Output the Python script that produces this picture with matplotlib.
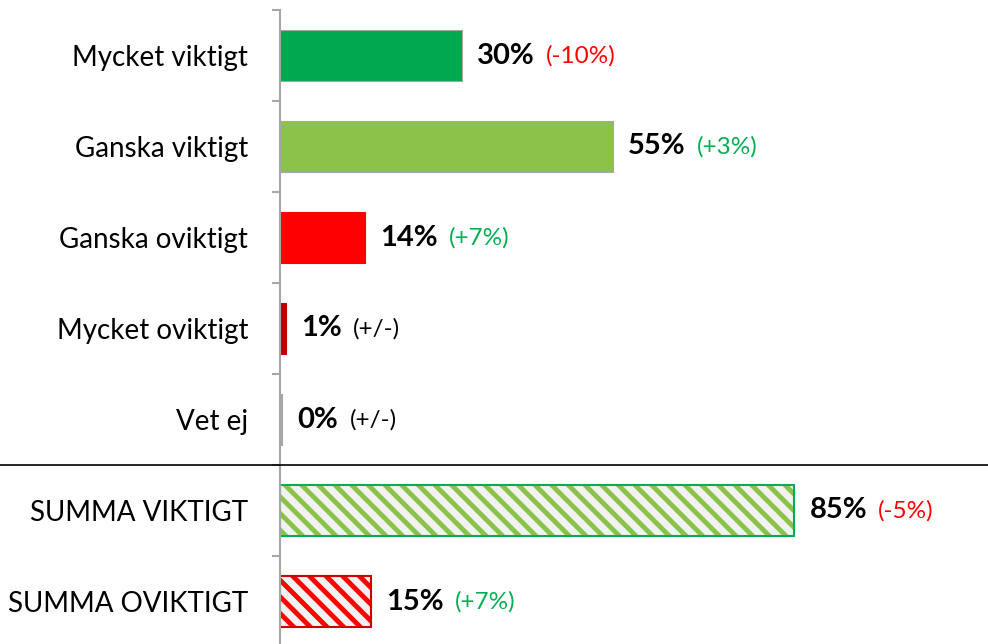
import matplotlib
matplotlib.use("Agg")
import matplotlib.pyplot as plt
from matplotlib.lines import Line2D

plt.rcParams['font.family'] = ['Lato', 'DejaVu Sans']

categories = ["Mycket viktigt", "Ganska viktigt", "Ganska oviktigt", "Mycket oviktigt",
              "Vet ej", "SUMMA VIKTIGT", "SUMMA OVIKTIGT"]
values = [30, 55, 14, 1, 0.4, 85, 15]
changes = ["(-10%)", "(+3%)", "(+7%)", "(+/-)", "(+/-)", "(-5%)", "(+7%)"]
change_colors = ["#FF0000", "#00B050", "#00B050", "#000000", "#000000", "#FF0000", "#00B050"]
face_colors = ["#00A84F", "#8BC34A", "#FF0000", "#C00000", "#A6A6A6", "#F2F2F2", "#F2F2F2"]
edge_colors = ["#A6A6A6", "#A6A6A6", "#FF0000", "#C00000", "#A6A6A6", "#00B050", "#D00000"]
hatches = [None, None, None, None, None, "\\\\", "\\\\"]
hatch_colors = [None, None, None, None, None, "#8BC34A", "#FF0000"]

W, H = 988, 644
fig = plt.figure(figsize=(W / 100, H / 100), dpi=100)
ax_left = 280 / W
ax_top = 10
ax_bottom = 647
ax = fig.add_axes([ax_left, 1 - ax_bottom / H, 1 - ax_left, (ax_bottom - ax_top) / H])

n = len(categories)
ypos = list(range(n))
for i in range(n):
    if hatches[i]:
        plt.rcParams['hatch.color'] = hatch_colors[i]
        plt.rcParams['hatch.linewidth'] = 3.5
        bar = ax.barh(ypos[i], values[i], height=0.57, color=face_colors[i],
                      edgecolor=edge_colors[i], linewidth=1.5, hatch=hatches[i])
        p = bar[0]
        if hasattr(p, 'set_hatch_linewidth'):
            p.set_hatch_linewidth(3.5)
        try:
            p._hatch_color = matplotlib.colors.to_rgba(hatch_colors[i])
        except Exception:
            pass
    else:
        ax.barh(ypos[i], values[i], height=0.57, color=face_colors[i],
                edgecolor=edge_colors[i], linewidth=0.8)

for i in range(n):
    t = ax.annotate(f"{round(values[i])}%", xy=(values[i], ypos[i]), xytext=(11, 0),
                    textcoords="offset points", va="center", ha="left",
                    fontsize=21, fontweight="bold", color="black")
    ax.annotate(changes[i], xy=(1, 0.5), xycoords=t, xytext=(8, 0),
                textcoords="offset points", va="center", ha="left",
                fontsize=17.5, color=change_colors[i])

ax.set_xlim(0, (W - 280) / 6.05)
ax.set_ylim(n - 0.5, -0.5)
ax.set_yticks(ypos)
ax.set_yticklabels(categories, fontsize=20)
ax.set_yticks([i - 0.5 for i in range(n + 1)], minor=True)
ax.tick_params(axis='y', which='major', length=0, pad=23)
ax.tick_params(axis='y', which='minor', length=6, width=1.5, color="#A6A6A6")
ax.set_xticks([])
for s in ["top", "right", "bottom"]:
    ax.spines[s].set_visible(False)
ax.spines["left"].set_color("#A6A6A6")
ax.spines["left"].set_linewidth(1.5)

fig.add_artist(Line2D([0, 1], [1 - 465 / H, 1 - 465 / H], color="black", linewidth=1.2,
                      transform=fig.transFigure))

fig.savefig("out.png", dpi=100, facecolor="white")
